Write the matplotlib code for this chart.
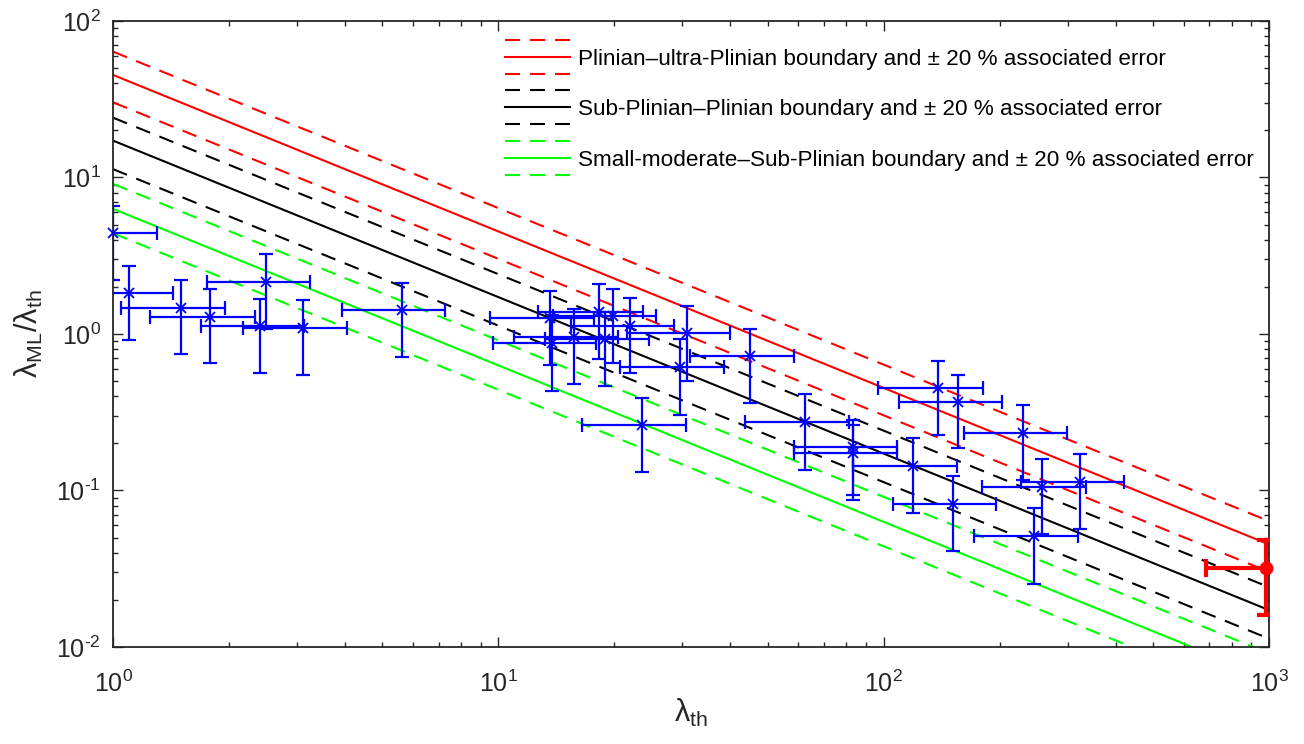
import matplotlib
matplotlib.use('Agg')
import matplotlib.pyplot as plt
import numpy as np
from matplotlib.lines import Line2D
from matplotlib.legend_handler import HandlerBase
from matplotlib.ticker import LogLocator, FuncFormatter, NullFormatter

plt.rcParams['font.family'] = ['Liberation Sans', 'DejaVu Sans']
plt.rcParams['mathtext.fontset'] = 'custom'
plt.rcParams['mathtext.rm'] = 'Liberation Sans'
plt.rcParams['mathtext.it'] = 'Liberation Sans:italic'
plt.rcParams['mathtext.default'] = 'regular'

# eruptions: lambda_th, lambda_ML/lambda_th and their errors
lam_th = [1.00, 1.10, 1.50, 1.79, 2.41, 2.50, 3.11, 5.61,
          13.6, 13.8, 15.7, 18.2, 19.8, 18.9, 22.0, 23.6, 29.6, 30.8,
          45.0, 62.5, 83.4, 83.4, 119.4, 138.7, 151, 156.3, 230.5, 246, 257, 323.5]
ratio = [4.40, 1.82, 1.47, 1.29, 1.12, 2.16, 1.10, 1.42,
         1.26, 0.873, 0.961, 1.39, 1.30, 0.925, 1.13, 0.262, 0.615, 1.01,
         0.723, 0.275, 0.189, 0.1745, 0.1435, 0.450, 0.082, 0.366, 0.234, 0.0512, 0.106, 0.114]
lam_th_err = [0.30, 0.33, 0.45, 0.54, 0.72, 0.75, 0.93, 1.68,
              4.1, 4.1, 4.7, 5.5, 5.9, 5.7, 6.6, 7.1, 8.9, 9.2,
              13.5, 18.8, 25, 25, 36, 42, 45, 47, 69, 74, 77, 97]
ratio_err = [2.2, 0.91, 0.73, 0.64, 0.56, 1.08, 0.55, 0.71,
             0.63, 0.44, 0.48, 0.70, 0.65, 0.46, 0.57, 0.13, 0.31, 0.51,
             0.36, 0.14, 0.095, 0.087, 0.072, 0.225, 0.041, 0.18, 0.117, 0.026, 0.053, 0.057]

# highlighted (red) event
ref_x, ref_y = [980], [0.0321]
ref_xerr, ref_yerr = [294], [0.016]

# boundaries lambda_ML = C (so ratio = C / lambda_th), with +-20 % lines
bound_labels = ['Plinian\u2013ultra-Plinian boundary and \u00b1 20 % associated error',
                'Sub-Plinian\u2013Plinian boundary and \u00b1 20 % associated error',
                'Small-moderate\u2013Sub-Plinian boundary and \u00b1 20 % associated error']
bound_colors = ['#ff0000', '#000000', '#00ff00']
bound_mid = [45.2, 17.2, 6.3]
bound_upper = [63.7, 24.1, 9.1]
bound_lower = [30.2, 11.3, 4.4]

dash = (0, (7.2, 4.8))
txt = '#262626'

fig = plt.figure(figsize=(13.04, 7.44), dpi=100)
ax = fig.add_axes([0.0867, 0.1304, 0.8865, 0.8414])

xs = np.array([1.0, 1000.0])
handles = []
for c, mid, up, lo in zip(bound_colors, bound_mid, bound_upper, bound_lower):
    ax.plot(xs, up / xs, color=c, lw=1.5, ls=dash)
    h, = ax.plot(xs, mid / xs, color=c, lw=1.5)
    ax.plot(xs, lo / xs, color=c, lw=1.5, ls=dash)
    handles.append(h)

ax.errorbar(lam_th, ratio, xerr=lam_th_err, yerr=ratio_err, fmt='none', ecolor='#0000ff',
            elinewidth=1.6, capsize=5, capthick=1.6, zorder=3)
ax.plot(lam_th, ratio, 'x', color='#0000ff', ms=7.5, mew=1.3, zorder=3, clip_on=False)
ax.errorbar(ref_x, ref_y, xerr=ref_xerr, yerr=ref_yerr, fmt='none', ecolor='#ff0000',
            elinewidth=3, capsize=6.5, capthick=3, zorder=4)
ax.plot(ref_x, ref_y, 'o', color='#ff0000', ms=9, zorder=5, clip_on=False)

ax.set_xscale('log')
ax.set_yscale('log')
ax.set_xlim(1, 1000)
ax.set_ylim(0.01, 100)


def dec_label(v, pos):
    e = int(round(np.log10(v)))
    if e < 0:
        return r'$10^{\text{-}%d}$' % (-e)
    return r'$10^{%d}$' % e


for a in (ax.xaxis, ax.yaxis):
    a.set_major_locator(LogLocator(base=10, numticks=10))
    a.set_minor_locator(LogLocator(base=10, subs=np.arange(2, 10), numticks=20))
    a.set_major_formatter(FuncFormatter(dec_label))
    a.set_minor_formatter(NullFormatter())

ax.tick_params(which='both', direction='in', top=True, right=True, color=txt,
               labelcolor=txt, labelsize=18, width=1)
ax.tick_params(which='major', length=7)
ax.tick_params(which='minor', length=3.6)
ax.tick_params(axis='x', pad=17)
ax.tick_params(axis='y', pad=9)
for s in ax.spines.values():
    s.set_color(txt)
    s.set_linewidth(1.3)

ax.set_xlabel(r'$\lambda_{th}$', fontsize=22, color=txt, labelpad=0)
ax.set_ylabel(r'$\lambda_{ML}/\lambda_{th}$', fontsize=22, color=txt, labelpad=8)


class TripleLine(HandlerBase):
    # dashed / solid / dashed stacked in one legend entry
    def create_artists(self, legend, orig_handle, xdescent, ydescent, width, height,
                       fontsize, trans):
        c = orig_handle.get_color()
        mid = (height - ydescent) / 2.0
        off = 0.75 * fontsize
        out = []
        for dy, ls in [(off, dash), (0, '-'), (-off, dash)]:
            out.append(Line2D([-xdescent, -xdescent + width], [mid + dy, mid + dy],
                              color=c, lw=1.5, ls=ls, transform=trans))
        return out


leg = ax.legend(handles, bound_labels, handler_map={Line2D: TripleLine()},
                loc='upper left', bbox_to_anchor=(0.339, 0.956), frameon=False,
                fontsize=16.2, borderpad=0, borderaxespad=0, handlelength=2.9,
                handletextpad=0.36, labelspacing=1.32)
for t in leg.get_texts():
    t.set_color('#000000')

fig.savefig('out.png', dpi=100)
